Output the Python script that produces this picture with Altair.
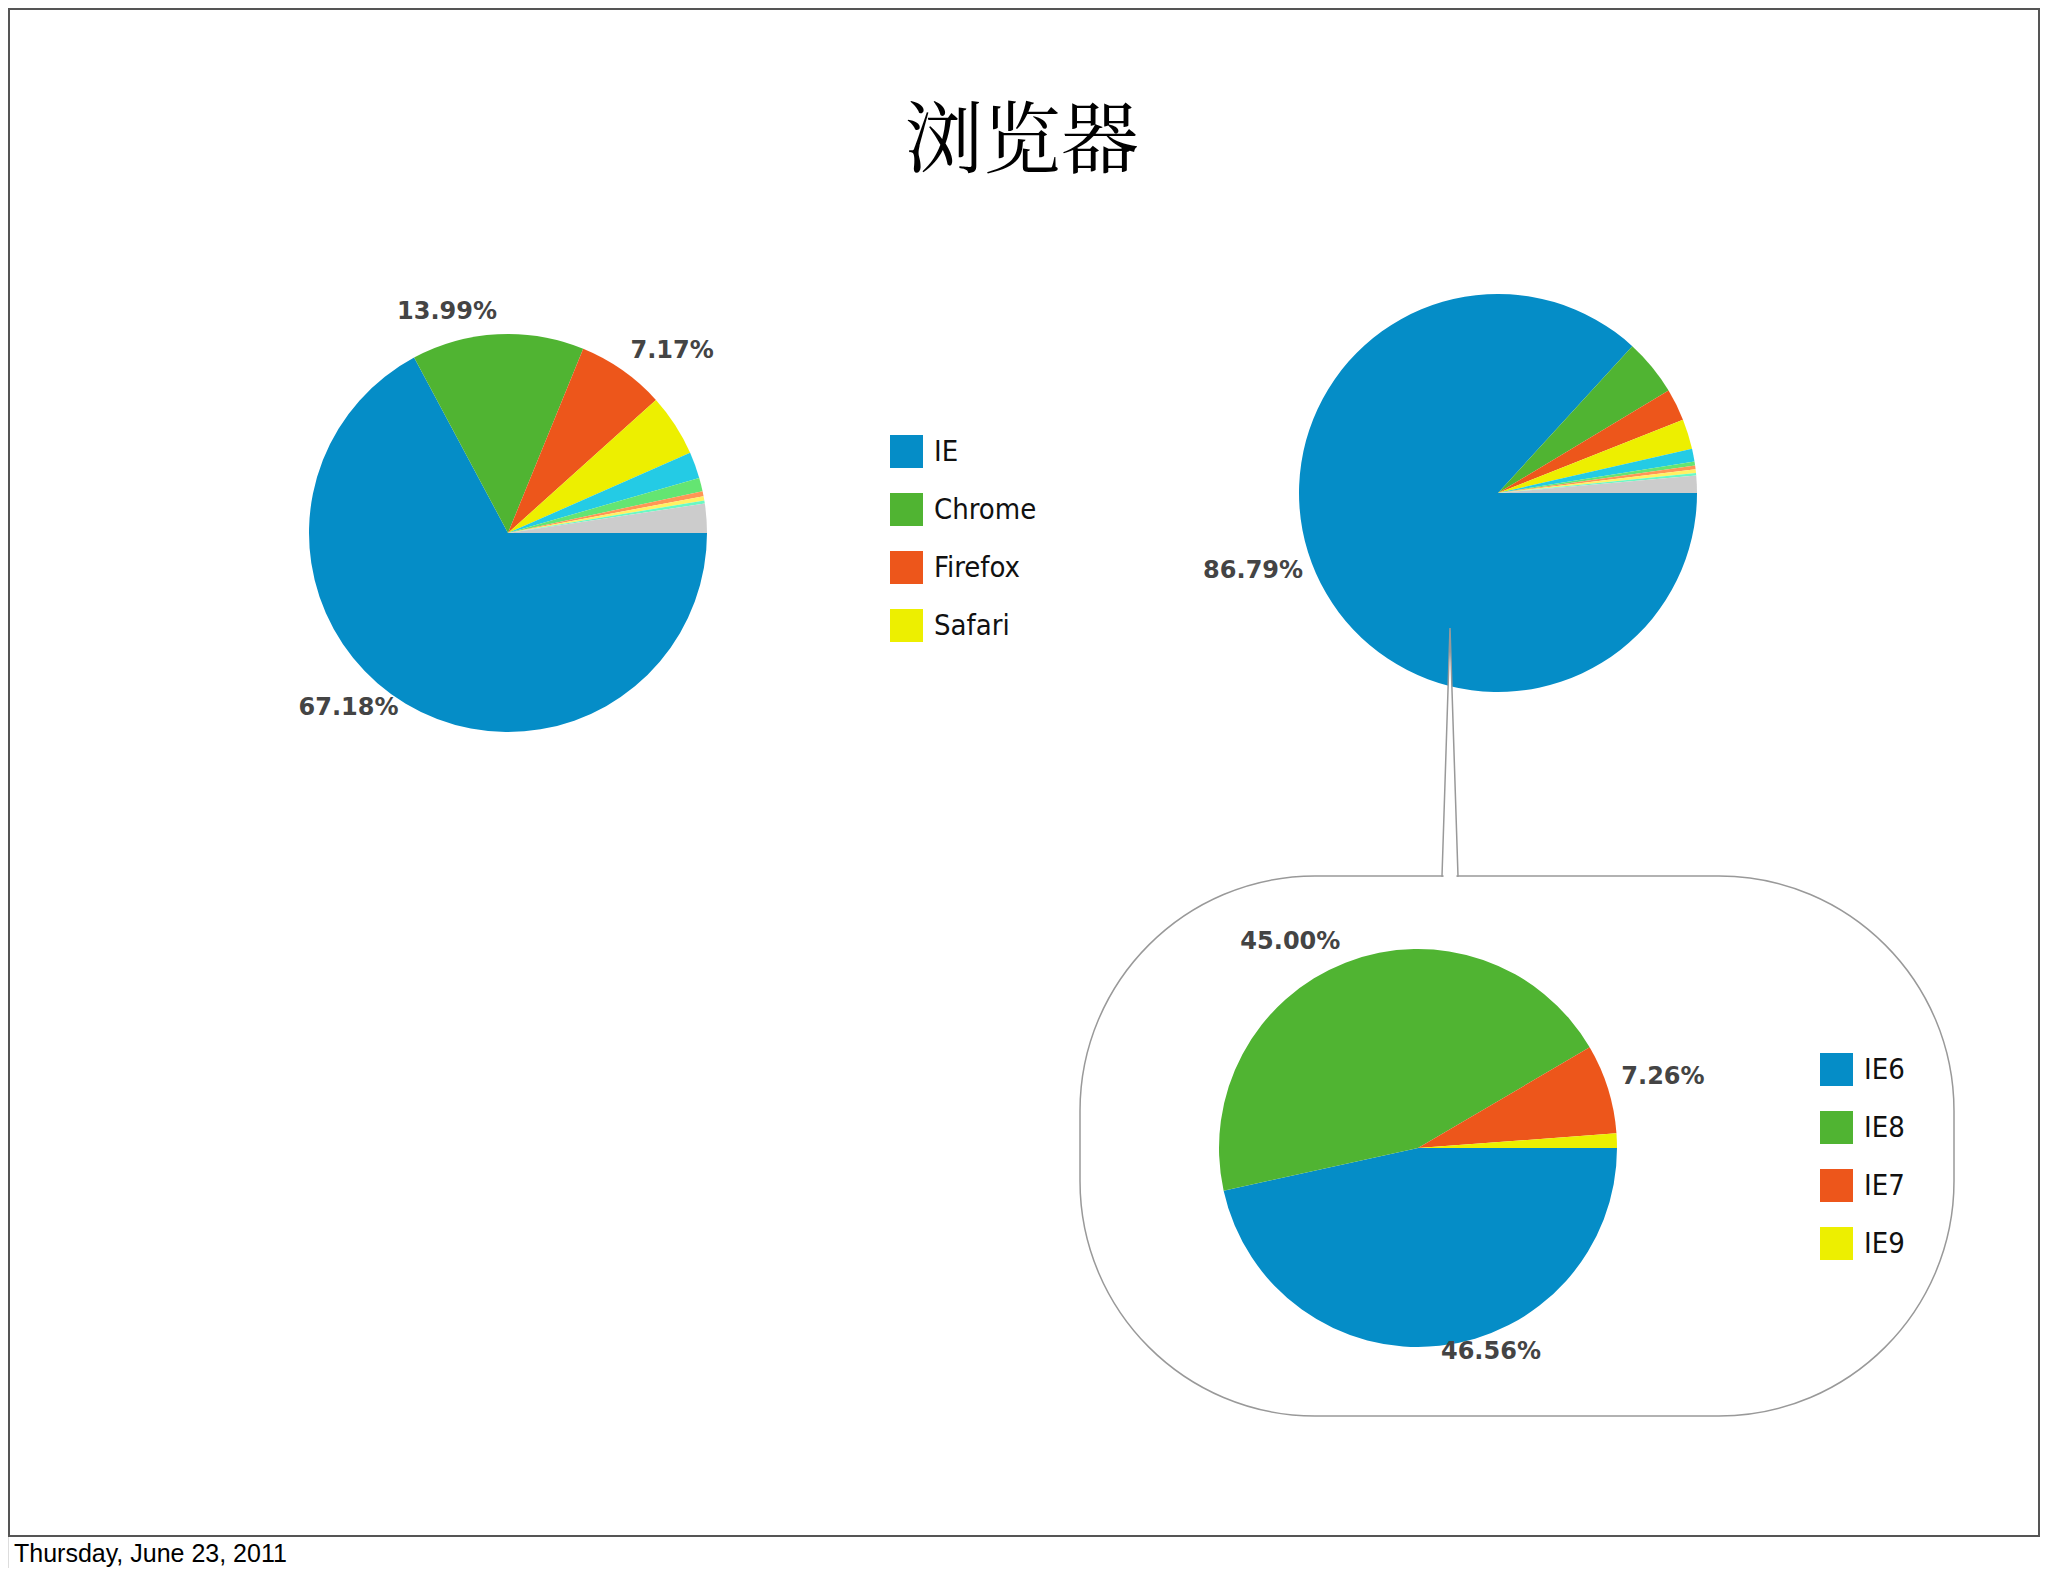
import math
import altair as alt
import pandas as pd

# ---------------- data ----------------
browser_names = ["IE", "Chrome", "Firefox", "Safari", "Opera",
                 "Other 1", "Other 2", "Other 3", "Other 4", "Other 5"]
browser_colors = ["#058DC7", "#50B432", "#ED561B", "#EDEF00", "#24CBE5",
                  "#64E572", "#FF9655", "#FFF263", "#6AF9C4", "#CCCCCC"]
share_all = [67.18, 13.99, 7.17, 5.06, 2.14, 1.10, 0.40, 0.35, 0.25, 2.36]
share_right = [86.79, 4.60, 2.60, 2.45, 1.03, 0.33, 0.30, 0.30, 0.20, 1.40]
legend_browsers = ["IE", "Chrome", "Firefox", "Safari"]

ie_names = ["IE6", "IE8", "IE7", "IE9"]
ie_colors = ["#058DC7", "#50B432", "#ED561B", "#EDEF00"]
ie_share = [46.56, 45.00, 7.26, 1.18]

title_text = "浏览器"
footer_text = "Thursday, June 23, 2011"

# ---------------- layout ----------------
W, H = 2032, 1560
R = 199
LABEL_FONT = "DejaVu Sans"
LEGEND_FONT = "DejaVu Sans Condensed, Liberation Sans Narrow, sans-serif"
TITLE_FONT = "Noto Serif CJK SC, Noto Sans CJK SC, serif"


def pie_layers(names, values, colors, cx, cy, legend):
    df = pd.DataFrame({"name": names, "value": values, "idx": list(range(len(names)))})
    theta = alt.Theta("value:Q", stack=True,
                      scale=alt.Scale(range=[math.pi / 2, math.pi * 2.5]))
    order = alt.Order("idx:Q")
    arc = alt.Chart(df).mark_arc(radius=R).encode(
        theta=theta,
        order=order,
        color=alt.Color("name:N", scale=alt.Scale(domain=names, range=colors),
                        legend=legend),
        x=alt.value(cx), y=alt.value(cy),
    )
    lab = (alt.Chart(df)
           .transform_joinaggregate(total="sum(value)")
           .transform_window(cum="sum(value)", sort=[alt.SortField("idx")], frame=[None, 0])
           .transform_calculate(ang="PI/2 + 2*PI*(datum.cum - datum.value/2)/datum.total")
           .transform_calculate(lblL="datum.value > 6 && sin(datum.ang) > 0 ? format(datum.value, '.2f') + '%' : ''")
           .transform_calculate(lblR="datum.value > 6 && sin(datum.ang) <= 0 ? format(datum.value, '.2f') + '%' : ''"))
    common = dict(baseline="middle", radius=R + 14, dy=-8, font=LABEL_FONT,
                  fontSize=24, fontWeight="bold", color="#444444")
    txt_l = lab.mark_text(align="left", **common).encode(
        theta=theta, order=order, detail="name:N", text="lblL:N",
        x=alt.value(cx), y=alt.value(cy))
    txt_r = lab.mark_text(align="right", **common).encode(
        theta=theta, order=order, detail="name:N", text="lblR:N",
        x=alt.value(cx), y=alt.value(cy))
    return [arc, txt_l, txt_r]


one = pd.DataFrame({"t": [title_text], "f": [footer_text]})

border = alt.Chart(one).mark_rect(filled=False, stroke="#555555", strokeWidth=2).encode(
    x=alt.value(1), x2=alt.value(W - 1), y=alt.value(1), y2=alt.value(1528))

footer = alt.Chart(one).mark_text(align="left", baseline="alphabetic", font="Liberation Sans",
                                  fontSize=25, color="#000000").encode(
    text="f:N", x=alt.value(6), y=alt.value(1554))

title = alt.Chart(one).mark_text(align="center", baseline="middle", font=TITLE_FONT,
                                 fontSize=78, color="#000000").encode(
    text="t:N", x=alt.value(1014), y=alt.value(136))

bubble = alt.Chart(one).mark_rect(fill="white", stroke="#999999", strokeWidth=1.5,
                                  cornerRadius=235).encode(
    x=alt.value(1072), x2=alt.value(1946), y=alt.value(868), y2=alt.value(1408))

pointer_df = pd.DataFrame({"py": [620, 868], "px1": [1442, 1434], "px2": [1442, 1450]})
pointer = alt.Chart(pointer_df).mark_area(orient="horizontal", fill="white", stroke="#999999",
                                          strokeWidth=1.5).encode(
    y=alt.Y("py:Q", scale=None), x=alt.X("px1:Q", scale=None), x2="px2:Q")
cover = alt.Chart(one).mark_rule(color="white", strokeWidth=3).encode(
    x=alt.value(1435.5), x2=alt.value(1448.5), y=alt.value(868), y2=alt.value(868))

legend_common = dict(orient="none", title=None, symbolType="square", symbolSize=1089,
                     symbolStrokeWidth=0, labelFont=LEGEND_FONT, labelFontSize=29,
                     labelColor="#111111", rowPadding=25, labelOffset=11, padding=0)
legend_left = alt.Legend(values=legend_browsers, legendX=882, legendY=427, **legend_common)
legend_ie = alt.Legend(legendX=1812, legendY=1045, **legend_common)

layers = [border, footer, title]
layers += pie_layers(browser_names, share_all, browser_colors, 500, 525, legend_left)
layers += pie_layers(browser_names, share_right, browser_colors, 1490, 485, None)
layers += [bubble, pointer, cover]
layers += pie_layers(ie_names, ie_share, ie_colors, 1410, 1140, legend_ie)

chart = (alt.layer(*layers)
         .resolve_scale(color="independent", theta="independent")
         .properties(width=W, height=H, padding=0,
                     autosize=alt.AutoSizeParams(type="none"))
         .configure_view(stroke=None)
         .configure(background="white"))

chart.save("out.html", embed_options={"renderer": "svg", "actions": False})
